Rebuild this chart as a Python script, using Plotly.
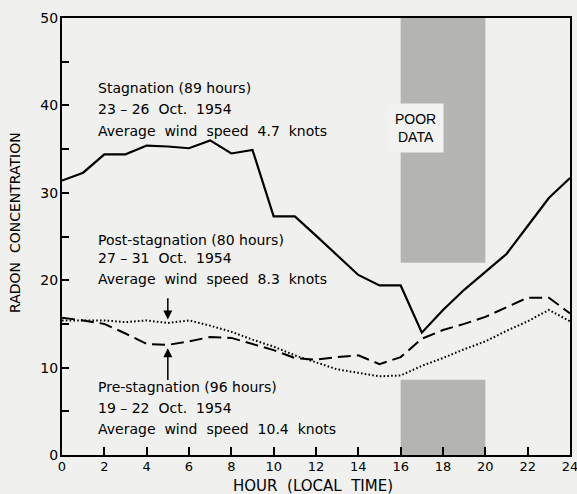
import plotly.graph_objects as go

hours = list(range(0, 25))
stagnation = [31.4, 32.3, 34.4, 34.4, 35.4, 35.3, 35.1, 36.0, 34.5, 34.9, 27.3, 27.3,
              25.1, 22.9, 20.6, 19.4, 19.4, 14.0, 16.6, 18.9, 21.0, 23.0, 26.2, 29.4, 31.7]
pre_stagnation = [15.7, 15.4, 15.0, 13.9, 12.7, 12.6, 13.0, 13.5, 13.4, 12.7, 12.0, 11.1,
                  10.9, 11.2, 11.4, 10.4, 11.2, 13.3, 14.3, 15.0, 15.8, 16.9, 18.0, 18.0, 16.2]
post_stagnation = [15.4, 15.4, 15.4, 15.2, 15.4, 15.1, 15.4, 14.8, 14.1, 13.2, 12.4, 11.4,
                   10.6, 9.8, 9.4, 9.0, 9.1, 10.2, 11.1, 12.1, 13.0, 14.2, 15.3, 16.6, 15.3]

poor_x = [16, 20]
poor_upper = [22, 50]
poor_lower = [0, 8.6]

FONT = "DejaVu Sans"
L, R, T, B = 62, 7, 18, 39
W, H = 577, 494
PW, PH = W - L - R, H - T - B

def px_x(xp):
    return (xp - L) / PW

def px_y(yp):
    return (H - B - yp) / PH

fig = go.Figure()

for y0, y1 in [poor_upper, poor_lower]:
    fig.add_shape(type="rect", x0=poor_x[0], x1=poor_x[1], y0=y0, y1=y1,
                  fillcolor="#b4b4b2", line=dict(width=0), layer="below")

fig.add_trace(go.Scatter(x=hours, y=stagnation, mode="lines",
                         line=dict(color="black", width=2.2)))
fig.add_trace(go.Scatter(x=hours, y=pre_stagnation, mode="lines",
                         line=dict(color="black", width=2, dash="13px,6px")))
fig.add_trace(go.Scatter(x=hours, y=post_stagnation, mode="lines",
                         line=dict(color="black", width=2, dash="1.6px,2.2px")))

# POOR DATA label box
fig.add_annotation(xref="paper", yref="paper", x=px_x(443.5), y=px_y(102.5),
                   text="POOR<br>DATA", showarrow=False,
                   font=dict(family="Liberation Sans", size=14, color="black"),
                   bgcolor="#f2f2f0", borderpad=7)

txt = dict(family=FONT, size=14, color="black")

def block(lines, y_px_list):
    for t, yp in zip(lines, y_px_list):
        fig.add_annotation(xref="paper", yref="paper", x=px_x(96),
                           y=px_y(yp), text=t, showarrow=False,
                           xanchor="left", yanchor="middle", font=txt)

block(["Stagnation (89 hours)", "23 – 26  Oct.  1954", "Average  wind  speed  4.7  knots"],
      [88, 109, 131])
block(["Post-stagnation (80 hours)", "27 – 31  Oct.  1954", "Average  wind  speed  8.3  knots"],
      [240, 258, 279])
block(["Pre-stagnation (96 hours)", "19 – 22  Oct.  1954", "Average  wind  speed  10.4  knots"],
      [387, 408, 429])

# axis titles
fig.add_annotation(xref="paper", yref="paper", x=px_x(313), y=px_y(486),
                   text="HOUR  (LOCAL  TIME)", showarrow=False,
                   xanchor="center", yanchor="middle",
                   font=dict(family=FONT, size=15, color="black"))
fig.add_annotation(xref="paper", yref="paper", x=px_x(15), y=px_y(223),
                   text="RADON  CONCENTRATION", showarrow=False, textangle=-90,
                   xanchor="center", yanchor="middle",
                   font=dict(family=FONT, size=14, color="black"))

# arrows
fig.add_annotation(x=5, y=post_stagnation[5] + 0.4, ax=5, ay=post_stagnation[5] + 3.0,
                   xref="x", yref="y", axref="x", ayref="y", text="", showarrow=True,
                   arrowhead=2, arrowsize=1.2, arrowwidth=1.5, arrowcolor="black")
fig.add_annotation(x=5, y=pre_stagnation[5] - 0.4, ax=5, ay=pre_stagnation[5] - 4.2,
                   xref="x", yref="y", axref="x", ayref="y", text="", showarrow=True,
                   arrowhead=2, arrowsize=1.2, arrowwidth=1.5, arrowcolor="black")

fig.update_layout(
    width=W, height=H,
    margin=dict(l=L, r=R, t=T, b=B, autoexpand=False),
    paper_bgcolor="#f0f0ee", plot_bgcolor="#f0f0ee",
    showlegend=False,
    font=dict(family=FONT, size=13, color="black"),
)
fig.update_xaxes(range=[0, 24], tickvals=list(range(0, 25, 2)), ticks="inside",
                 ticklen=8, tickwidth=2, tickcolor="black", showgrid=False, zeroline=False,
                 showline=True, linewidth=2, linecolor="black", mirror=True,
                 automargin=False, tickfont=dict(size=13), ticklabelstandoff=-2,
                 ticklabeloverflow="allow")
fig.update_yaxes(range=[0, 50], tickvals=list(range(0, 51, 10)), ticks="inside",
                 ticklen=7, tickwidth=2, tickcolor="black", showgrid=False, zeroline=False,
                 showline=True, linewidth=2, linecolor="black", mirror=True,
                 minor=dict(tickvals=list(range(5, 50, 10)), ticks="inside", ticklen=7,
                            tickwidth=2, tickcolor="black", showgrid=False),
                 automargin=False, tickfont=dict(size=14), ticklabelstandoff=-1,
                 ticklabeloverflow="allow")

fig.write_html("out.html", config={"displayModeBar": False},
               post_script="document.body.style.margin='0';document.body.style.overflow='hidden';")
